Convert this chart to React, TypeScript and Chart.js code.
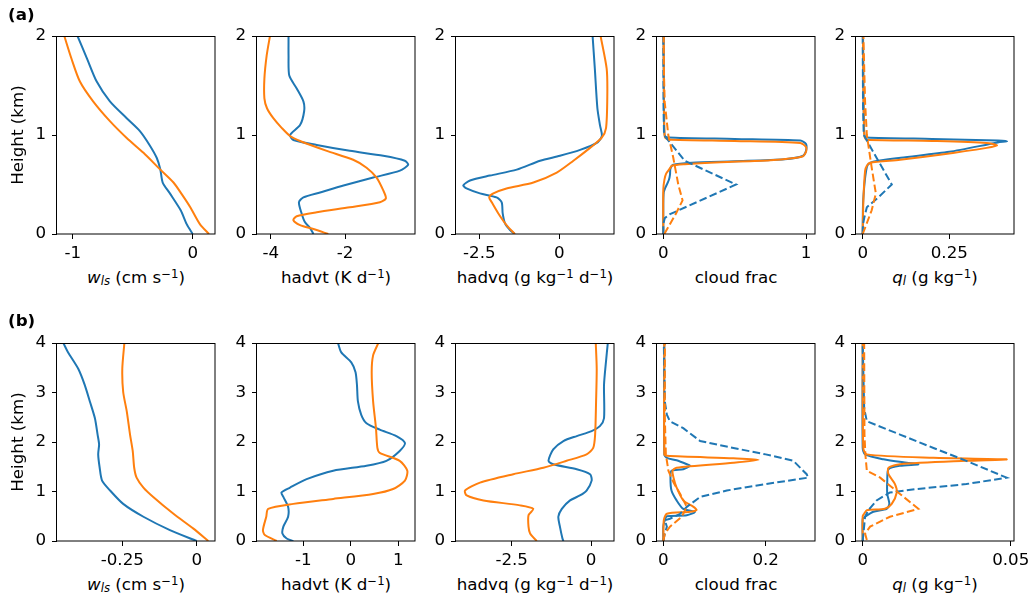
import React, { useEffect, useRef } from 'react';
import { Chart, registerables } from 'chart.js';
Chart.register(...registerables);

type Pt = [number, number]; // [value, height km]

// ---------- Row (a) data ----------
const aWlsBlue: Pt[] = [[0,0],[-0.05,0.1],[-0.1,0.24],[-0.19,0.41],[-0.25,0.52],[-0.27,0.655],[-0.3,0.77],[-0.36,0.9],[-0.44,1.04],[-0.55,1.17],[-0.69,1.34],[-0.8,1.54],[-0.88,1.77],[-0.96,2.0]];
const aWlsOrange: Pt[] = [[0.136,0],[0.06,0.1],[-0.02,0.27],[-0.09,0.4],[-0.16,0.52],[-0.27,0.65],[-0.41,0.82],[-0.55,0.97],[-0.69,1.14],[-0.83,1.34],[-0.94,1.54],[-1.01,1.77],[-1.07,2.0]];

const aHadvtBlue: Pt[] = [[-2.85,0],[-2.94,0.06],[-3.08,0.12],[-3.17,0.21],[-3.24,0.32],[-3.12,0.37],[-2.67,0.42],[-2.04,0.49],[-1.24,0.57],[-0.52,0.64],[-0.3,0.7],[-0.39,0.74],[-0.97,0.79],[-1.87,0.84],[-2.76,0.9],[-3.39,0.95],[-3.48,1.0],[-3.21,1.1],[-3.1,1.24],[-3.12,1.34],[-3.3,1.47],[-3.5,1.6],[-3.52,1.8],[-3.52,2.0]];
const aHadvtOrange: Pt[] = [[-2.45,0],[-2.85,0.05],[-3.21,0.09],[-3.39,0.14],[-3.3,0.18],[-2.76,0.22],[-1.87,0.27],[-1.06,0.32],[-0.9,0.36],[-0.97,0.44],[-1.15,0.57],[-1.42,0.67],[-1.78,0.75],[-2.49,0.84],[-3.21,0.94],[-3.48,0.99],[-3.7,1.07],[-3.93,1.17],[-4.1,1.27],[-4.17,1.37],[-4.17,1.57],[-4.11,1.8],[-4.02,2.0]];

const aHadvqBlue: Pt[] = [[-1.39,0],[-1.54,0.04],[-1.7,0.11],[-1.77,0.21],[-1.8,0.32],[-1.96,0.37],[-2.48,0.41],[-2.9,0.46],[-3.0,0.49],[-2.79,0.54],[-2.17,0.59],[-1.33,0.65],[-0.6,0.74],[0.02,0.79],[0.65,0.85],[1.17,0.92],[1.33,0.99],[1.27,1.1],[1.19,1.27],[1.11,1.67],[1.04,2.0]];
const aHadvqOrange: Pt[] = [[-1.39,0],[-1.65,0.09],[-1.91,0.21],[-2.11,0.32],[-2.19,0.37],[-2.06,0.41],[-1.65,0.46],[-0.81,0.52],[-0.08,0.62],[0.44,0.74],[0.96,0.87],[1.32,0.97],[1.46,1.07],[1.5,1.4],[1.48,1.67],[1.29,2.0]];

const aCfBlue: Pt[] = [[0,0],[0,0.3],[0.003,0.42],[0.012,0.46],[0.025,0.5],[0.04,0.55],[0.047,0.6],[0.05,0.66],[0.07,0.7],[0.2,0.72],[0.5,0.735],[0.85,0.755],[0.98,0.79],[1.0,0.84],[1.0,0.91],[0.96,0.944],[0.5,0.96],[0.035,0.975],[0.012,0.99],[0.006,1.05],[0.004,1.3],[0.002,2]];
const aCfOrange: Pt[] = [[0,0],[0,0.45],[0.008,0.55],[0.02,0.61],[0.045,0.66],[0.06,0.69],[0.15,0.705],[0.4,0.725],[0.75,0.745],[0.97,0.78],[1.0,0.83],[1.0,0.88],[0.96,0.92],[0.5,0.94],[0.035,0.955],[0.012,0.975],[0.008,1.05],[0.005,1.3],[0.003,2]];
const aCfBlueDash: Pt[] = [[0,0],[0,0.1],[0.01,0.16],[0.047,0.2],[0.51,0.5],[0.15,0.74],[0.005,1.0],[0.002,1.3],[0,2]];
const aCfOrangeDash: Pt[] = [[0.007,0],[0.035,0.07],[0.09,0.21],[0.135,0.34],[0.105,0.5],[0.07,0.77],[0.035,1.0],[0.01,1.33],[0.005,1.6],[0.002,2]];

const aQlBlue: Pt[] = [[0,0],[0.001,0.3],[0.005,0.5],[0.01,0.64],[0.015,0.7],[0.03,0.73],[0.11,0.77],[0.25,0.83],[0.39,0.925],[0.417,0.937],[0.39,0.945],[0.2,0.96],[0.012,0.975],[0.006,0.99],[0.004,1.05],[0.002,1.5],[0.001,2]];
const aQlOrange: Pt[] = [[0,0],[0.002,0.34],[0.007,0.64],[0.012,0.69],[0.021,0.72],[0.108,0.75],[0.223,0.8],[0.358,0.87],[0.388,0.894],[0.358,0.92],[0.2,0.94],[0.012,0.953],[0.006,0.975],[0.004,1.05],[0.002,1.5],[0.001,2]];
const aQlBlueDash: Pt[] = [[0,0],[0.001,0.1],[0.005,0.17],[0.012,0.27],[0.045,0.37],[0.084,0.5],[0.04,0.77],[0.003,1.0],[0.001,1.3],[0,2]];
const aQlOrangeDash: Pt[] = [[0,0],[0.012,0.11],[0.026,0.24],[0.038,0.41],[0.026,0.67],[0.012,1.0],[0.007,1.33],[0.002,2]];

// ---------- Row (b) data ----------
const bWlsBlue: Pt[] = [[0,0],[-0.09,0.22],[-0.179,0.49],[-0.247,0.75],[-0.291,1.02],[-0.318,1.22],[-0.326,1.48],[-0.331,1.75],[-0.328,1.95],[-0.333,2.15],[-0.342,2.48],[-0.359,2.82],[-0.376,3.15],[-0.398,3.48],[-0.432,3.81],[-0.448,4]];
const bWlsOrange: Pt[] = [[0.039,0],[-0.011,0.25],[-0.078,0.55],[-0.146,0.89],[-0.179,1.08],[-0.202,1.28],[-0.21,1.48],[-0.215,1.82],[-0.224,2.15],[-0.235,2.62],[-0.247,3.01],[-0.25,3.48],[-0.243,4]];

const bHadvtBlue: Pt[] = [[-1.21,0],[-1.35,0.05],[-1.44,0.15],[-1.42,0.29],[-1.32,0.49],[-1.32,0.69],[-1.42,0.89],[-1.46,0.98],[-1.28,1.08],[-0.93,1.25],[-0.37,1.42],[0.33,1.52],[0.75,1.62],[1.03,1.82],[1.14,1.98],[0.96,2.12],[0.61,2.25],[0.33,2.38],[0.22,2.55],[0.15,2.82],[0.13,3.15],[0.1,3.41],[0.01,3.61],[-0.2,3.81],[-0.27,4]];
const bHadvtOrange: Pt[] = [[-1.56,0],[-1.81,0.12],[-1.85,0.22],[-1.78,0.49],[-1.74,0.65],[-1.21,0.75],[-0.37,0.85],[0.47,0.95],[0.89,1.05],[1.14,1.22],[1.19,1.42],[1.03,1.62],[0.61,1.78],[0.56,1.88],[0.53,2.28],[0.47,2.82],[0.44,3.41],[0.47,3.75],[0.58,4]];

const bHadvqBlue: Pt[] = [[-0.87,0],[-0.9,0.05],[-0.98,0.29],[-1.03,0.49],[-0.92,0.65],[-0.66,0.82],[-0.35,0.92],[-0.14,1.02],[0.02,1.22],[-0.03,1.35],[-0.45,1.45],[-1.19,1.55],[-1.34,1.62],[-1.19,1.85],[-0.87,2.02],[-0.45,2.12],[0.02,2.22],[0.28,2.32],[0.41,2.48],[0.41,3.15],[0.47,3.61],[0.53,4]];
const bHadvqOrange: Pt[] = [[-1.71,0],[-1.92,0.15],[-1.97,0.29],[-1.97,0.52],[-1.82,0.65],[-2.24,0.72],[-3.39,0.82],[-3.92,0.92],[-3.97,1.02],[-3.5,1.18],[-2.45,1.35],[-1.5,1.48],[-0.77,1.62],[-0.14,1.75],[0.07,1.88],[0.13,2.15],[0.16,2.82],[0.18,3.48],[0.15,4]];

const bCfBlue: Pt[] = [[0,0],[0,0.29],[0.003,0.42],[0.007,0.5],[0.046,0.52],[0.062,0.59],[0.039,0.65],[0.026,0.82],[0.016,1.02],[0.014,1.28],[0.016,1.42],[0.039,1.45],[0.052,1.52],[0.046,1.55],[0.026,1.63],[0.007,1.68],[0.002,1.75],[0.002,4]];
const bCfOrange: Pt[] = [[0,0],[0.001,0.42],[0.007,0.55],[0.052,0.59],[0.065,0.63],[0.059,0.69],[0.039,0.82],[0.026,1.08],[0.02,1.28],[0.018,1.42],[0.026,1.48],[0.137,1.58],[0.186,1.64],[0.137,1.67],[0.007,1.72],[0.002,1.75],[0.002,4]];
const bCfBlueDash: Pt[] = [[0,0],[0.003,0.15],[0.007,0.29],[0.003,0.42],[0.013,0.45],[0.033,0.55],[0.046,0.69],[0.072,0.89],[0.124,1.02],[0.2,1.15],[0.283,1.28],[0.28,1.35],[0.254,1.62],[0.2,1.75],[0.137,1.88],[0.072,2.02],[0.039,2.28],[0.013,2.42],[0.007,2.55],[0.003,2.82],[0.001,4]];
const bCfOrangeDash: Pt[] = [[0,0],[0.003,0.15],[0.013,0.29],[0.036,0.49],[0.046,0.69],[0.033,0.95],[0.02,1.18],[0.01,1.42],[0.005,1.75],[0.003,2.5],[0.003,4]];

const bQlBlue: Pt[] = [[0,0],[0,0.45],[0.0008,0.49],[0.0036,0.59],[0.0081,0.65],[0.009,0.75],[0.0083,0.95],[0.0083,1.22],[0.0087,1.45],[0.0126,1.52],[0.0188,1.55],[0.0149,1.58],[0.007,1.65],[0.0008,1.75],[0,1.88],[0,4]];
const bQlOrange: Pt[] = [[0,0],[0,0.5],[0.0005,0.55],[0.0014,0.62],[0.0075,0.65],[0.0098,0.75],[0.0115,0.98],[0.0109,1.15],[0.0087,1.35],[0.0087,1.48],[0.0126,1.55],[0.035,1.62],[0.0486,1.65],[0.0239,1.68],[0.0014,1.75],[0.0002,1.88],[0,4]];
const bQlBlueDash: Pt[] = [[0,0],[0.0008,0.49],[0.0019,0.62],[0.0047,0.82],[0.0092,0.98],[0.0182,1.05],[0.035,1.15],[0.0486,1.28],[0.035,1.62],[0.0239,1.88],[0.0126,2.15],[0.0014,2.42],[0.0005,2.68],[0,4]];
const bQlOrangeDash: Pt[] = [[0.0014,0.02],[0.0008,0.15],[0.0025,0.29],[0.0092,0.49],[0.0188,0.65],[0.0126,0.95],[0.0059,1.28],[0.0014,1.42],[0.0009,1.75],[0.0006,2.15],[0.0005,4]];

// ---------- Axes ----------
const xTicksA = [[-1, 0], [-4, -2], [-2.5, 0], [0, 1], [0, 0.25]];
const xTicksB = [[-0.25, 0], [-1, 0, 1], [-2.5, 0], [0, 0.2], [0, 0.05]];
const xRangeA = [[-1.131, 0.186], [-4.369, -0.116], [-3.228, 1.709], [-0.0441, 1.063], [-0.0193, 0.4368]];
const xRangeB = [[-0.4694, 0.0615], [-1.975, 1.352], [-4.256, 0.725], [-0.0123, 0.2963], [-0.00226, 0.0511]];
const yTicksA = [0, 1, 2];
const yTicksB = [0, 1, 2, 3, 4];

const BLUE = '#1f77b4';
const ORANGE = '#ff7f0e';
const FONT = "'DejaVu Sans'";
const FS = 16.7;

const PLOT_LEFT = [57, 257, 456, 657, 856];
const PLOT_TOP = [34, 341];
const PLOT_W = 158;
const PLOT_H = 200;
const PT = 14, PR = 28, H_X = 32;

type Series = { data: Pt[]; color: string; dash: boolean };
type PanelCfg = { row: number; col: number; xMin: number; xMax: number; xTicks: number[]; yTicks: number[]; series: Series[] };

const S = (data: Pt[], color: string, dash = false): Series => ({ data, color, dash });

const panels: PanelCfg[] = [
  [S(aWlsBlue, BLUE), S(aWlsOrange, ORANGE)],
  [S(aHadvtBlue, BLUE), S(aHadvtOrange, ORANGE)],
  [S(aHadvqBlue, BLUE), S(aHadvqOrange, ORANGE)],
  [S(aCfBlue, BLUE), S(aCfOrange, ORANGE), S(aCfBlueDash, BLUE, true), S(aCfOrangeDash, ORANGE, true)],
  [S(aQlBlue, BLUE), S(aQlOrange, ORANGE), S(aQlBlueDash, BLUE, true), S(aQlOrangeDash, ORANGE, true)],
].map((series, col) => ({ row: 0, col, xMin: xRangeA[col][0], xMax: xRangeA[col][1], xTicks: xTicksA[col], yTicks: yTicksA, series }))
.concat([
  [S(bWlsBlue, BLUE), S(bWlsOrange, ORANGE)],
  [S(bHadvtBlue, BLUE), S(bHadvtOrange, ORANGE)],
  [S(bHadvqBlue, BLUE), S(bHadvqOrange, ORANGE)],
  [S(bCfBlue, BLUE), S(bCfOrange, ORANGE), S(bCfBlueDash, BLUE, true), S(bCfOrangeDash, ORANGE, true)],
  [S(bQlBlue, BLUE), S(bQlOrange, ORANGE), S(bQlBlueDash, BLUE, true), S(bQlOrangeDash, ORANGE, true)],
].map((series, col) => ({ row: 1, col, xMin: xRangeB[col][0], xMax: xRangeB[col][1], xTicks: xTicksB[col], yTicks: yTicksB, series })));

const framePlugin = {
  id: 'frame',
  afterDraw(chart: any) {
    const { ctx, chartArea: a } = chart;
    ctx.save();
    ctx.strokeStyle = '#000';
    ctx.lineWidth = 1;
    ctx.strokeRect(Math.round(a.left) - 0.5, Math.round(a.top) + 0.5, Math.round(a.right - a.left) + 0.5, Math.round(a.bottom - a.top) - 0.5);
    ctx.restore();
  },
};

function Panel({ p }: { p: PanelCfg }) {
  const ref = useRef<HTMLCanvasElement>(null);
  const wy = p.col === 0 ? PLOT_LEFT[0] : 56;
  const left = PLOT_LEFT[p.col] - wy;
  const top = PLOT_TOP[p.row] - PT;
  const width = wy + PLOT_W + PR;
  const height = PT + PLOT_H + H_X;
  useEffect(() => {
    const n = p.series.length;
    const tickFont = { family: FONT, size: FS };
    const chart = new Chart(ref.current as HTMLCanvasElement, {
      type: 'scatter',
      data: {
        datasets: p.series.map((s, i) => ({
          data: s.data.map(([x, y]) => ({ x, y })),
          showLine: true,
          borderColor: s.color,
          backgroundColor: s.color,
          borderWidth: 2,
          borderDash: s.dash ? [7.7, 3.3] : [],
          pointRadius: 0,
          pointHoverRadius: 0,
          tension: s.dash ? 0 : 0.25,
          fill: false,
          order: n - i,
        })),
      },
      options: {
        animation: false,
        responsive: false,
        maintainAspectRatio: false,
        events: [],
        layout: { padding: { top: PT, right: PR, left: 0, bottom: 0 } },
        plugins: { legend: { display: false }, tooltip: { enabled: false } },
        scales: {
          x: {
            type: 'linear',
            position: 'bottom',
            min: p.xMin,
            max: p.xMax,
            afterBuildTicks: (ax: any) => { ax.ticks = p.xTicks.map((v) => ({ value: v })); },
            afterFit: (ax: any) => { ax.height = H_X; },
            ticks: { autoSkip: false, maxRotation: 0, padding: 5, color: '#000', font: tickFont, callback: (v: any) => String(v) },
            grid: { drawOnChartArea: false, drawTicks: true, tickLength: 5, tickColor: '#000', tickWidth: 1 },
            border: { display: false },
          },
          y: {
            type: 'linear',
            position: 'left',
            min: 0,
            max: p.yTicks[p.yTicks.length - 1],
            afterBuildTicks: (ax: any) => { ax.ticks = p.yTicks.map((v) => ({ value: v })); },
            afterFit: (ax: any) => { ax.width = wy; },
            ticks: { autoSkip: false, padding: 6, color: '#000', font: tickFont, callback: (v: any) => String(v) },
            grid: { drawOnChartArea: false, drawTicks: true, tickLength: 5, tickColor: '#000', tickWidth: 1 },
            border: { display: false },
            title: { display: p.col === 0, text: 'Height (km)', color: '#000', font: tickFont, padding: { top: 9, bottom: 0 } },
          },
        },
      } as any,
      plugins: [framePlugin],
    });
    return () => chart.destroy();
  }, []);
  return (
    <canvas
      ref={ref}
      width={width}
      height={height}
      style={{ position: 'absolute', left, top, width, height }}
    />
  );
}

const sup = (t: string) => (
  <span style={{ fontSize: '11.7px', verticalAlign: '5px', lineHeight: 0 }}>{t}</span>
);
const sub = (t: string) => (
  <span style={{ fontSize: '11.7px', verticalAlign: '-2px', lineHeight: 0, fontStyle: 'italic' }}>{t}</span>
);

const xLabels = [
  <><i>w</i>{sub('ls')} (cm s{sup('\u22121')})</>,
  <>hadvt (K d{sup('\u22121')})</>,
  <>hadvq (g kg{sup('\u22121')} d{sup('\u22121')})</>,
  <>cloud frac</>,
  <><i>q</i>{sub('l')} (g kg{sup('\u22121')})</>,
];

const LABEL_TOP = [267, 574];

export default function App() {
  return (
    <div style={{ position: 'fixed', left: 0, top: 0, width: 1035, height: 603, background: '#fff', overflow: 'hidden', fontFamily: FONT, color: '#000' }}>
      {panels.map((p, i) => <Panel key={i} p={p} />)}
      {[0, 1].map((r) =>
        xLabels.map((lab, c) => (
          <div key={`${r}-${c}`} style={{ position: 'absolute', left: PLOT_LEFT[c] + PLOT_W / 2 - 120, top: LABEL_TOP[r], width: 240, textAlign: 'center', fontSize: FS, lineHeight: '20px', whiteSpace: 'nowrap' }}>
            {lab}
          </div>
        ))
      )}
      <div style={{ position: 'absolute', left: 8, top: 4, fontSize: FS, fontWeight: 'bold', lineHeight: '20px' }}>(a)</div>
      <div style={{ position: 'absolute', left: 8, top: 310, fontSize: FS, fontWeight: 'bold', lineHeight: '20px' }}>(b)</div>
    </div>
  );
}
